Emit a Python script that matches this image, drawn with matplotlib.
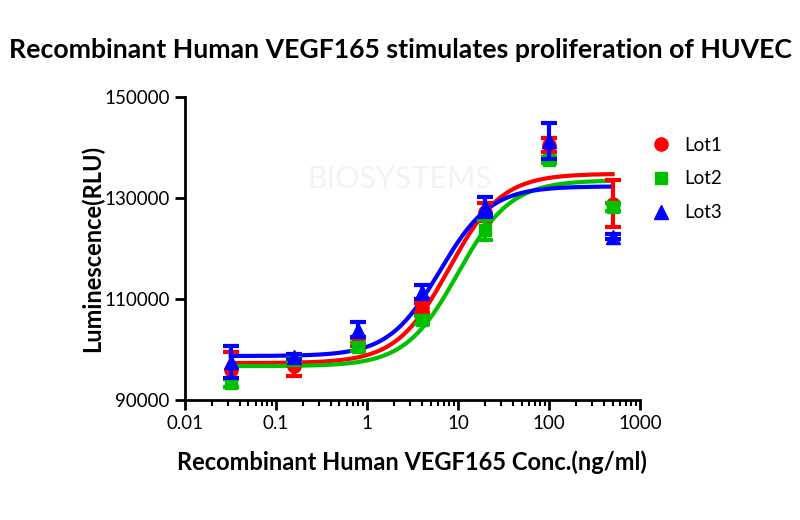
import numpy as np
import matplotlib
matplotlib.use("Agg")
import matplotlib.pyplot as plt
from matplotlib.ticker import LogLocator, FixedLocator, NullFormatter

plt.rcParams['font.family'] = ['Lato', 'DejaVu Sans']

# ---- data ----
conc = [0.032, 0.16, 0.8, 4, 20, 100, 500]
lot_names = ["Lot1", "Lot2", "Lot3"]
lot1 = [96000, 96800, 101500, 108200, 127200, 140500, 128900]
lot1_err = [3500, 2100, 800, 1000, 1800, 1300, 4700]
lot2 = [93300, 97900, 100500, 105800, 123700, 137500, 128200]
lot2_err = [800, 600, 800, 800, 2000, 600, 800]
lot3 = [97500, 98600, 103900, 111400, 128200, 141300, 122300]
lot3_err = [3200, 500, 1500, 1400, 2000, 3500, 500]

# 4PL fit parameters: bottom, top, EC50, hill
fit_bottom = [97300, 96700, 98700]
fit_top = [134800, 133500, 132300]
fit_ec50 = [8.0, 10.0, 6.3]
fit_hill = [1.5, 1.5, 1.55]

colors = ["#ff0000", "#00c000", "#0000ff"]
markers = ["o", "s", "^"]
msizes = [9.5, 9, 10]

x_ticks = [0.01, 0.1, 1, 10, 100, 1000]
x_ticklabels = ["0.01", "0.1", "1", "10", "100", "1000"]
y_ticks = [90000, 110000, 130000, 150000]

fig = plt.figure(figsize=(8, 5.2), dpi=100)
ax = fig.add_axes([0.231, 0.2308, 0.569, 0.5827])

# faint watermark
fig.text(0.50, 0.655, "BIOSYSTEMS", fontsize=22, color="#f3f3f3",
         ha="center", va="center", zorder=0)

series = [lot1, lot2, lot3]
errs = [lot1_err, lot2_err, lot3_err]
xs = np.logspace(np.log10(0.032), np.log10(500), 300)
for i in range(3):
    yfit = fit_bottom[i] + (fit_top[i] - fit_bottom[i]) / (1 + (fit_ec50[i] / xs) ** fit_hill[i])
    ax.plot(xs, yfit, color=colors[i], lw=3, zorder=2 + i)
for i in range(3):
    ax.errorbar(conc, series[i], yerr=errs[i], fmt=markers[i], color=colors[i],
                ms=msizes[i], mec=colors[i], elinewidth=3, capsize=6, capthick=3,
                zorder=5 + i, label=lot_names[i])

ax.set_xscale("log")
ax.set_xlim(0.01, 1000)
ax.set_ylim(90000, 150000)
ax.xaxis.set_major_locator(FixedLocator(x_ticks))
ax.set_xticklabels(x_ticklabels)
ax.xaxis.set_minor_locator(LogLocator(base=10, subs=np.arange(2, 10)))
ax.xaxis.set_minor_formatter(NullFormatter())
ax.set_yticks(y_ticks)
ax.set_yticklabels([str(v) for v in y_ticks])

for s in ["top", "right"]:
    ax.spines[s].set_visible(False)
for s in ["left", "bottom"]:
    ax.spines[s].set_linewidth(2)
ax.tick_params(axis="both", which="major", length=7, width=2, labelsize=13.5, pad=4)
ax.tick_params(axis="x", which="minor", length=4, width=1.5)

ax.set_xlabel("Recombinant Human VEGF165 Conc.(ng/ml)", fontsize=17, fontweight="bold", labelpad=13)
ax.set_ylabel("Luminescence(RLU)", fontsize=17, fontweight="bold", labelpad=0)
fig.text(0.5, 0.904, "Recombinant Human VEGF165 stimulates proliferation of HUVEC",
         fontsize=19.2, fontweight="bold", ha="center", va="center")

handles, labels = ax.get_legend_handles_labels()
handles = [h[0] for h in handles]
ax.legend(handles, labels, loc="upper left", bbox_to_anchor=(0.985, 0.925), frameon=False,
          fontsize=13.5, handletextpad=0.6, labelspacing=0.9, handlelength=1.2)

fig.savefig("out.png", dpi=100)
